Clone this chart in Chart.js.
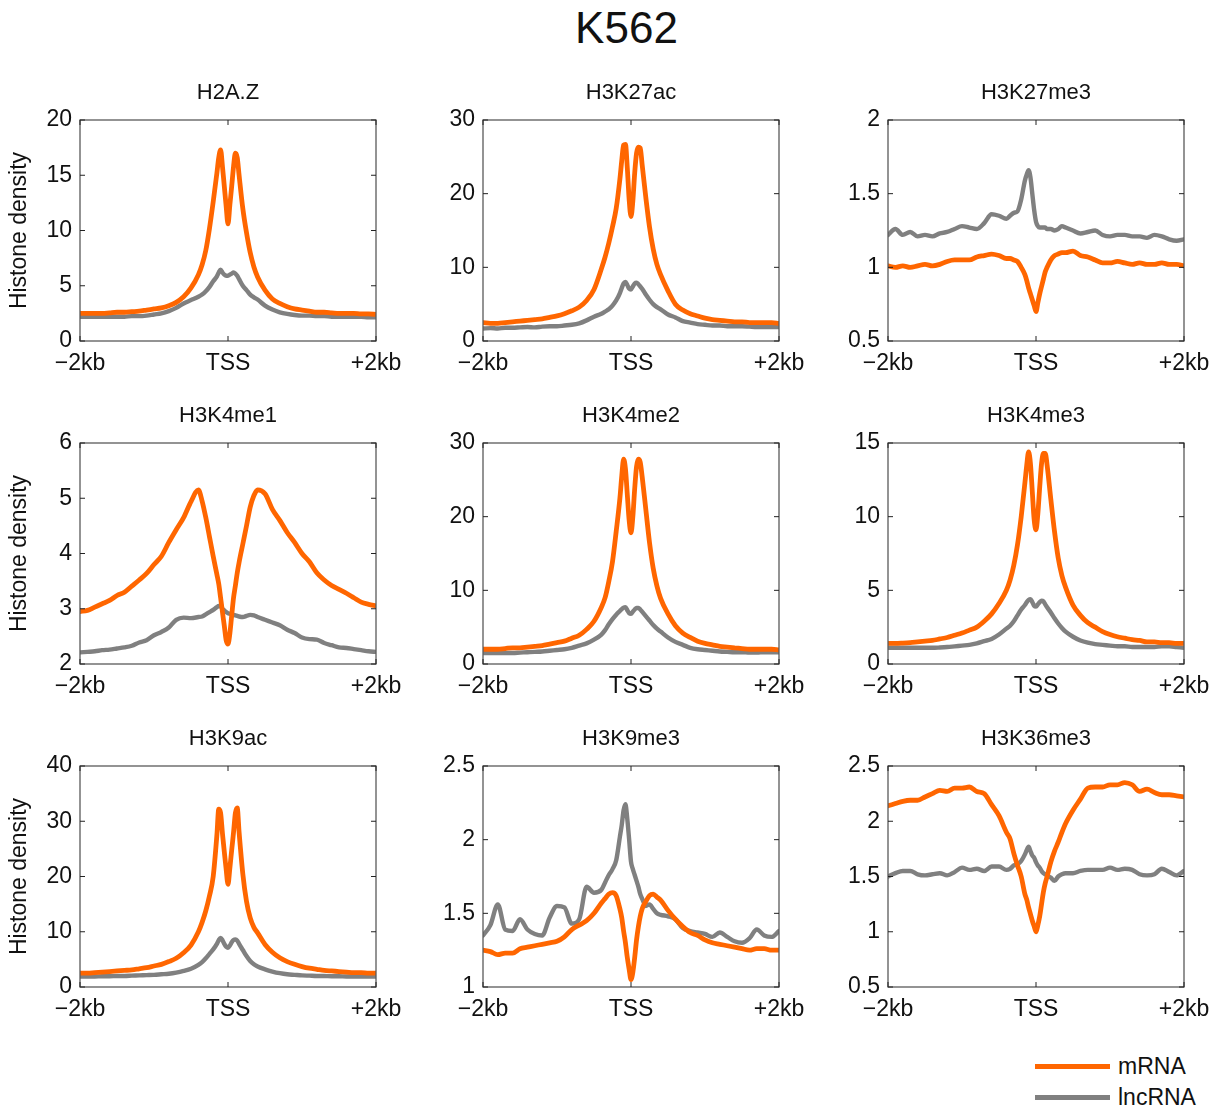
<!DOCTYPE html>
<html>
<head>
<meta charset="utf-8">
<title>K562</title>
<script src="https://cdn.jsdelivr.net/npm/chart.js@4.4.1/dist/chart.umd.min.js"></script>
<style>
  body { margin: 0; background: #fff; }
  #fig { position: relative; width: 1217px; height: 1112px; font-family: 'Liberation Sans', Arial, sans-serif; color: #111; }
  #fig h1 { position: absolute; left: 18px; top: 0; width: 1217px; margin: 0; text-align: center; font-weight: normal; font-size: 44px; line-height: 56px; }
  .panel { position: absolute; width: 411px; height: 301px; }
  .legend { position: absolute; left: 1035px; top: 1051px; font-size: 23px; }
  .legend .row { display: flex; align-items: center; height: 31px; }
  .legend .swatch { display: inline-block; width: 75px; height: 4.5px; margin-right: 8px; }
</style>
</head>
<body>
<div id="fig">
  <h1>K562</h1>
  <div class="legend">
    <div class="row"><span class="swatch" style="background:#ff6600"></span><span>mRNA</span></div>
    <div class="row"><span class="swatch" style="background:#808080"></span><span>lncRNA</span></div>
  </div>
</div>
<script>
// distance from TSS in bp, finer steps near the TSS
const positions = [
  -2000, -1900, -1800, -1700, -1600, -1500, -1400, -1300, -1200, -1100, -1000, -900, -800, -700, -600, -500, -400,
  -350, -300, -250, -200, -150,
  -125, -100, -75, -50, -25, 0, 25, 50, 75, 100, 125,
  150, 200, 250, 300, 350,
  400, 500, 600, 700, 800, 900, 1000, 1100, 1200, 1300, 1400, 1500, 1600, 1700, 1800, 1900, 2000
];

const xTickValues = [-2000, 0, 2000];
const xTickLabels = ['\u22122kb', 'TSS', '+2kb'];

const panelNames = ['H2A.Z', 'H3K27ac', 'H3K27me3', 'H3K4me1', 'H3K4me2', 'H3K4me3', 'H3K9ac', 'H3K9me3', 'H3K36me3'];
const yMin  = [0, 0, 0.5, 2, 0, 0, 0, 1, 0.5];
const yMax  = [20, 30, 2, 6, 30, 15, 40, 2.5, 2.5];
const yStep = [5, 10, 0.5, 1, 10, 5, 10, 0.5, 0.5];

const h2az_mRNA = [
  2.5, 2.5, 2.5, 2.5, 2.55, 2.6, 2.6, 2.65, 2.7, 2.8, 2.9, 3.0, 3.2, 3.5, 4.0, 4.8, 6.0,
  6.9, 8.2, 10.2, 12.6, 15.2,
  16.6, 17.3, 15.8, 14.0, 12.2, 10.6, 12.3, 14.0, 15.8, 17.0, 16.6,
  15.0, 12.0, 9.8, 8.0, 6.7,
  5.8, 4.6, 3.8, 3.4, 3.1, 2.9, 2.8, 2.7, 2.6, 2.6, 2.55, 2.5, 2.5, 2.5, 2.45, 2.45, 2.4
];
const h2az_lncRNA = [
  2.2, 2.2, 2.2, 2.2, 2.2, 2.2, 2.2, 2.25, 2.25, 2.3, 2.4, 2.5, 2.7, 3.0, 3.4, 3.7, 4.0,
  4.2, 4.5, 4.9, 5.4, 5.85,
  6.2, 6.45, 6.2, 6.0, 5.9, 5.9, 6.0, 6.1, 6.2, 6.1, 5.9,
  5.6, 5.0, 4.6, 4.2, 3.95,
  3.75, 3.2, 2.85, 2.6, 2.45, 2.35, 2.3, 2.3, 2.25, 2.25, 2.2, 2.2, 2.2, 2.2, 2.2, 2.15, 2.15
];

const h3k27ac_mRNA = [
  2.5, 2.4, 2.4, 2.5, 2.6, 2.7, 2.8, 2.9, 3.0, 3.2, 3.4, 3.7, 4.1, 4.6, 5.5, 7.0, 9.8,
  11.4, 13.3, 15.5, 18.0, 22.0,
  24.5, 26.6, 26.7, 23.5, 19.2, 16.9, 19.0, 22.8, 25.5, 26.3, 26.2,
  24.0, 19.5, 15.5, 12.5, 10.4,
  9.0, 6.8, 5.0, 4.2, 3.7, 3.4, 3.1, 2.9, 2.8, 2.7, 2.6, 2.6, 2.5, 2.5, 2.5, 2.5, 2.4
];
const h3k27ac_lncRNA = [
  1.7, 1.75, 1.7, 1.8, 1.8, 1.85, 1.9, 1.85, 1.95, 2.0, 2.0, 2.1, 2.2, 2.4, 2.8, 3.3, 3.7,
  4.0, 4.3, 4.8, 5.5, 6.5,
  7.2, 7.8, 8.0, 7.6, 7.1, 7.0, 7.4, 7.8, 7.9, 7.7, 7.4,
  7.1, 6.3, 5.6, 5.0, 4.6,
  4.3, 3.6, 3.2, 2.7, 2.5, 2.3, 2.2, 2.1, 2.1, 2.0, 2.0, 2.0, 1.95, 1.9, 1.9, 1.9, 1.9
];

const h3k27me3_mRNA = [
  1.01, 1.0, 1.01, 1.0, 1.01, 1.02, 1.01, 1.02, 1.04, 1.05, 1.05, 1.05, 1.07, 1.08, 1.09, 1.08, 1.06,
  1.06, 1.05, 1.04, 1.0, 0.95,
  0.91, 0.86, 0.82, 0.78, 0.74, 0.7, 0.76, 0.82, 0.87, 0.92, 0.97,
  1.0, 1.05, 1.08, 1.09, 1.1,
  1.1, 1.11, 1.08, 1.07, 1.05, 1.03, 1.03, 1.04, 1.03, 1.02, 1.03, 1.02, 1.02, 1.03, 1.02, 1.02, 1.01
];
const h3k27me3_lncRNA = [
  1.22, 1.26, 1.22, 1.24, 1.21, 1.22, 1.21, 1.23, 1.24, 1.26, 1.28, 1.27, 1.26, 1.3, 1.36, 1.35, 1.33,
  1.35, 1.37, 1.38, 1.46, 1.59,
  1.63, 1.66, 1.61, 1.5, 1.39, 1.31, 1.28, 1.27, 1.27, 1.27, 1.27,
  1.26, 1.26, 1.25, 1.26, 1.28,
  1.27, 1.25, 1.23, 1.24, 1.25, 1.22, 1.21, 1.22, 1.22, 1.21, 1.21, 1.2, 1.22, 1.21, 1.19, 1.18, 1.19
];

const h3k4me1_mRNA = [
  2.95, 2.97, 3.03, 3.09, 3.15, 3.24, 3.3, 3.41, 3.52, 3.64, 3.8, 3.95, 4.2, 4.43, 4.65, 4.94, 5.15,
  4.95, 4.65, 4.3, 3.95, 3.62,
  3.45, 3.2, 2.94, 2.69, 2.43, 2.36, 2.55, 2.88, 3.2, 3.42, 3.65,
  3.84, 4.17, 4.5, 4.84, 5.05,
  5.15, 5.08, 4.8, 4.6, 4.38, 4.2, 4.0, 3.85, 3.65, 3.52, 3.42, 3.35, 3.28, 3.2, 3.12, 3.08, 3.05
];
const h3k4me1_lncRNA = [
  2.21, 2.22, 2.23, 2.25, 2.26, 2.28, 2.3, 2.33, 2.39, 2.43, 2.52, 2.58, 2.66, 2.8, 2.84, 2.83, 2.85,
  2.86, 2.9, 2.94, 2.98, 3.03,
  3.05, 3.04, 3.0, 2.97, 2.94, 2.92, 2.91, 2.9, 2.89, 2.88, 2.87,
  2.86, 2.85, 2.87, 2.89, 2.88,
  2.85, 2.8, 2.75, 2.7, 2.62, 2.56, 2.48, 2.45, 2.44, 2.38, 2.34, 2.3, 2.29, 2.27, 2.25, 2.23, 2.22
];

const h3k4me2_mRNA = [
  2.0, 2.0, 2.0, 2.1, 2.2, 2.2, 2.3, 2.4, 2.5, 2.7, 2.9, 3.1, 3.5, 3.9, 4.7, 5.8, 7.7,
  9.0, 11.2, 13.9, 18.0, 22.5,
  25.5, 27.8, 26.5, 23.0, 19.5, 17.8, 20.0, 23.8, 26.8, 27.8, 27.4,
  25.5, 21.0, 16.5, 13.0, 10.6,
  8.9, 6.8, 5.2, 4.2, 3.6, 3.1, 2.8, 2.6, 2.4, 2.3, 2.2, 2.1, 2.0, 2.0, 2.0, 2.0, 1.9
];
const h3k4me2_lncRNA = [
  1.5, 1.5, 1.5, 1.5, 1.5, 1.55, 1.6, 1.65, 1.7, 1.8, 1.9, 2.0, 2.2, 2.5, 2.8, 3.3, 4.0,
  4.6, 5.4, 6.1, 6.7, 7.2,
  7.45, 7.65, 7.7, 7.3, 6.9, 6.8, 7.1, 7.4, 7.6, 7.6, 7.4,
  7.1, 6.5, 5.9, 5.3, 4.8,
  4.4, 3.6, 3.0, 2.6, 2.2, 2.0, 1.9, 1.8, 1.7, 1.65, 1.6, 1.6, 1.55, 1.55, 1.6, 1.6, 1.6
];

const h3k4me3_mRNA = [
  1.4, 1.4, 1.42, 1.45, 1.5, 1.55, 1.6, 1.7, 1.8, 1.95, 2.1, 2.3, 2.5, 2.9, 3.4, 4.1, 5.0,
  5.7, 6.7, 8.1, 10.0, 12.3,
  13.5, 14.4, 13.6, 11.7, 9.8, 9.1, 10.2, 12.0, 13.6, 14.3, 14.3,
  13.5, 11.2, 9.0, 7.2, 6.0,
  5.2, 4.0, 3.3, 2.8, 2.5, 2.2, 2.0, 1.85, 1.75, 1.65, 1.6, 1.5, 1.5, 1.45, 1.45, 1.4, 1.4
];
const h3k4me3_lncRNA = [
  1.1, 1.1, 1.1, 1.1, 1.1, 1.1, 1.1, 1.12, 1.15, 1.2, 1.25, 1.3, 1.4, 1.55, 1.7, 2.0, 2.4,
  2.6, 2.9, 3.3, 3.7, 4.0,
  4.2, 4.35, 4.4, 4.2, 3.95, 3.9, 4.05, 4.2, 4.3, 4.25, 4.05,
  3.85, 3.5, 3.1, 2.75, 2.45,
  2.2, 1.85, 1.6, 1.45, 1.35, 1.3, 1.25, 1.2, 1.2, 1.15, 1.15, 1.15, 1.15, 1.2, 1.2, 1.15, 1.1
];

const h3k9ac_mRNA = [
  2.5, 2.5, 2.6, 2.7, 2.8, 2.9, 3.0, 3.1, 3.3, 3.5, 3.8, 4.1, 4.6, 5.2, 6.2, 7.6, 10.0,
  11.7, 13.8, 16.5, 20.0, 27.5,
  32.2, 31.5, 27.8, 24.5, 21.3, 18.6, 21.5, 24.8, 28.0, 31.5, 32.4,
  28.0, 20.5, 15.5, 12.5, 10.8,
  9.8, 7.7, 6.3, 5.3, 4.6, 4.1, 3.7, 3.4, 3.2, 3.0, 2.9, 2.8, 2.7, 2.6, 2.6, 2.5, 2.5
];
const h3k9ac_lncRNA = [
  1.9, 1.9, 1.9, 1.95, 1.95, 2.0, 2.0, 2.05, 2.1, 2.15, 2.2, 2.3, 2.4, 2.6, 2.9, 3.3, 4.0,
  4.5, 5.2, 6.0, 6.8, 7.8,
  8.5, 8.9, 8.5, 7.8, 7.3, 7.1, 7.5, 8.1, 8.5, 8.6, 8.4,
  7.8, 6.7, 5.6, 4.7, 4.1,
  3.7, 3.2, 2.8, 2.5, 2.3, 2.2, 2.1, 2.05, 2.0, 2.0, 1.95, 1.95, 1.9, 1.9, 1.9, 1.9, 1.9
];

const h3k9me3_mRNA = [
  1.25, 1.24, 1.22, 1.23, 1.23, 1.26, 1.27, 1.28, 1.29, 1.3, 1.31, 1.34, 1.39, 1.42, 1.45, 1.5, 1.57,
  1.6, 1.63, 1.64, 1.62, 1.53,
  1.47, 1.38, 1.3, 1.2, 1.12, 1.05, 1.1, 1.2, 1.32, 1.41, 1.48,
  1.53, 1.58, 1.62, 1.63, 1.61,
  1.59, 1.52, 1.46, 1.41, 1.37, 1.35, 1.32, 1.3, 1.29, 1.28, 1.27, 1.26, 1.25, 1.26, 1.26, 1.25, 1.25
];
const h3k9me3_lncRNA = [
  1.35, 1.42, 1.56, 1.39, 1.38, 1.46, 1.39, 1.36, 1.35, 1.47, 1.55, 1.54, 1.43, 1.46, 1.68, 1.64, 1.66,
  1.71, 1.76, 1.8, 1.86, 2.02,
  2.1, 2.2, 2.24, 2.14, 2.0, 1.85, 1.8, 1.76, 1.72, 1.68, 1.63,
  1.6, 1.55, 1.56, 1.53, 1.5,
  1.49, 1.48, 1.46, 1.4, 1.38, 1.37, 1.36, 1.34, 1.37, 1.34, 1.31, 1.3, 1.33, 1.39, 1.35, 1.34, 1.38
];

const h3k36me3_mRNA = [
  2.14, 2.16, 2.18, 2.19, 2.19, 2.22, 2.25, 2.28, 2.27, 2.3, 2.3, 2.31, 2.27, 2.25, 2.15, 2.05, 1.9,
  1.84, 1.71, 1.6, 1.5, 1.34,
  1.29, 1.22, 1.16, 1.1, 1.05, 1.0, 1.06, 1.14, 1.25, 1.36, 1.44,
  1.5, 1.63, 1.73, 1.81, 1.9,
  1.98, 2.1, 2.2, 2.3, 2.31, 2.31, 2.33, 2.33, 2.35, 2.33, 2.27, 2.29, 2.26, 2.24, 2.24, 2.23, 2.22
];
const h3k36me3_lncRNA = [
  1.5, 1.53, 1.55, 1.55, 1.52, 1.51, 1.52, 1.53, 1.51, 1.54, 1.58, 1.56, 1.57, 1.55, 1.59, 1.59, 1.56,
  1.57, 1.6, 1.61, 1.64, 1.7,
  1.74, 1.77, 1.73, 1.69, 1.67, 1.63, 1.6, 1.58, 1.55, 1.53, 1.52,
  1.51, 1.49, 1.46, 1.5, 1.52,
  1.53, 1.53, 1.55, 1.56, 1.56, 1.56, 1.58, 1.56, 1.57, 1.56, 1.52, 1.51, 1.52, 1.57, 1.54, 1.51, 1.55
];

const mrnaSeries = [h2az_mRNA, h3k27ac_mRNA, h3k27me3_mRNA, h3k4me1_mRNA, h3k4me2_mRNA, h3k4me3_mRNA, h3k9ac_mRNA, h3k9me3_mRNA, h3k36me3_mRNA];
const lncSeries  = [h2az_lncRNA, h3k27ac_lncRNA, h3k27me3_lncRNA, h3k4me1_lncRNA, h3k4me2_lncRNA, h3k4me3_lncRNA, h3k9ac_lncRNA, h3k9me3_lncRNA, h3k36me3_lncRNA];

const ORANGE = '#ff6600';
const GRAY = '#808080';
const TEXT = '#111111';
const FRAME = '#5a5a5a';
const FONT = "'Liberation Sans', Arial, sans-serif";

// plot-area corners of the 3x3 grid
const colLeft = [80, 483, 888];
const rowTop = [120, 443, 766];

Chart.defaults.font.family = FONT;
Chart.defaults.color = TEXT;

// matlab-like box with inward ticks on all four sides
const boxFrame = {
  id: 'boxFrame',
  afterDraw(chart) {
    const { ctx, chartArea: a, scales: { x, y } } = chart;
    const t = 5;
    ctx.save();
    ctx.strokeStyle = FRAME;
    ctx.lineWidth = 1.3;
    ctx.strokeRect(a.left, a.top, a.right - a.left, a.bottom - a.top);
    ctx.beginPath();
    x.ticks.forEach(tk => {
      const px = x.getPixelForValue(tk.value);
      ctx.moveTo(px, a.bottom); ctx.lineTo(px, a.bottom - t);
      ctx.moveTo(px, a.top); ctx.lineTo(px, a.top + t);
    });
    y.ticks.forEach(tk => {
      const py = y.getPixelForValue(tk.value);
      ctx.moveTo(a.left, py); ctx.lineTo(a.left + t, py);
      ctx.moveTo(a.right, py); ctx.lineTo(a.right - t, py);
    });
    ctx.strokeStyle = '#222';
    ctx.lineWidth = 1;
    ctx.stroke();
    ctx.restore();
  }
};

function lineSet(label, values, color, width) {
  return {
    label,
    data: positions.map((p, i) => ({ x: p, y: values[i] })),
    borderColor: color,
    borderWidth: width,
    borderJoinStyle: 'round',
    borderCapStyle: 'round',
    pointRadius: 0,
    cubicInterpolationMode: 'monotone',
    fill: false
  };
}

const fig = document.getElementById('fig');

panelNames.forEach((name, i) => {
  const col = i % 3, row = Math.floor(i / 3);
  const wrap = document.createElement('div');
  wrap.className = 'panel';
  wrap.style.left = (colLeft[col] - 80) + 'px';
  wrap.style.top = (rowTop[row] - 40) + 'px';
  const canvas = document.createElement('canvas');
  canvas.width = 411;
  canvas.height = 301;
  wrap.appendChild(canvas);
  fig.appendChild(wrap);

  new Chart(canvas, {
    type: 'line',
    data: {
      datasets: [
        lineSet('mRNA', mrnaSeries[i], ORANGE, 4.8),
        lineSet('lncRNA', lncSeries[i], GRAY, 4.4)
      ]
    },
    options: {
      responsive: false,
      animation: false,
      events: [],
      layout: { padding: { left: 0, right: 35, top: 0, bottom: 0 } },
      plugins: {
        legend: { display: false },
        tooltip: { enabled: false },
        title: {
          display: true,
          fullSize: false,
          text: name,
          color: TEXT,
          font: { size: 22, weight: 'normal' },
          padding: { top: 0, bottom: 13.6 }
        }
      },
      scales: {
        x: {
          type: 'linear',
          min: -2000,
          max: 2000,
          grid: { display: false, drawTicks: false },
          border: { display: false },
          afterBuildTicks: s => { s.ticks = xTickValues.map(v => ({ value: v })); },
          afterFit: s => { s.height = 40; },
          ticks: {
            autoSkip: false,
            maxRotation: 0,
            padding: 9,
            color: TEXT,
            font: { size: 23 },
            callback: v => xTickLabels[xTickValues.indexOf(v)]
          }
        },
        y: {
          min: yMin[i],
          max: yMax[i],
          grid: { display: false, drawTicks: false },
          border: { display: false },
          afterFit: s => { s.width = 80; },
          ticks: {
            stepSize: yStep[i],
            padding: 8,
            color: TEXT,
            font: { size: 23 },
            callback: v => String(+v.toFixed(2))
          },
          title: {
            display: col === 0,
            text: 'Histone density',
            color: TEXT,
            font: { size: 23 },
            padding: { top: 6, bottom: 0 }
          }
        }
      }
    },
    plugins: [boxFrame]
  });
});
</script>
</body>
</html>
